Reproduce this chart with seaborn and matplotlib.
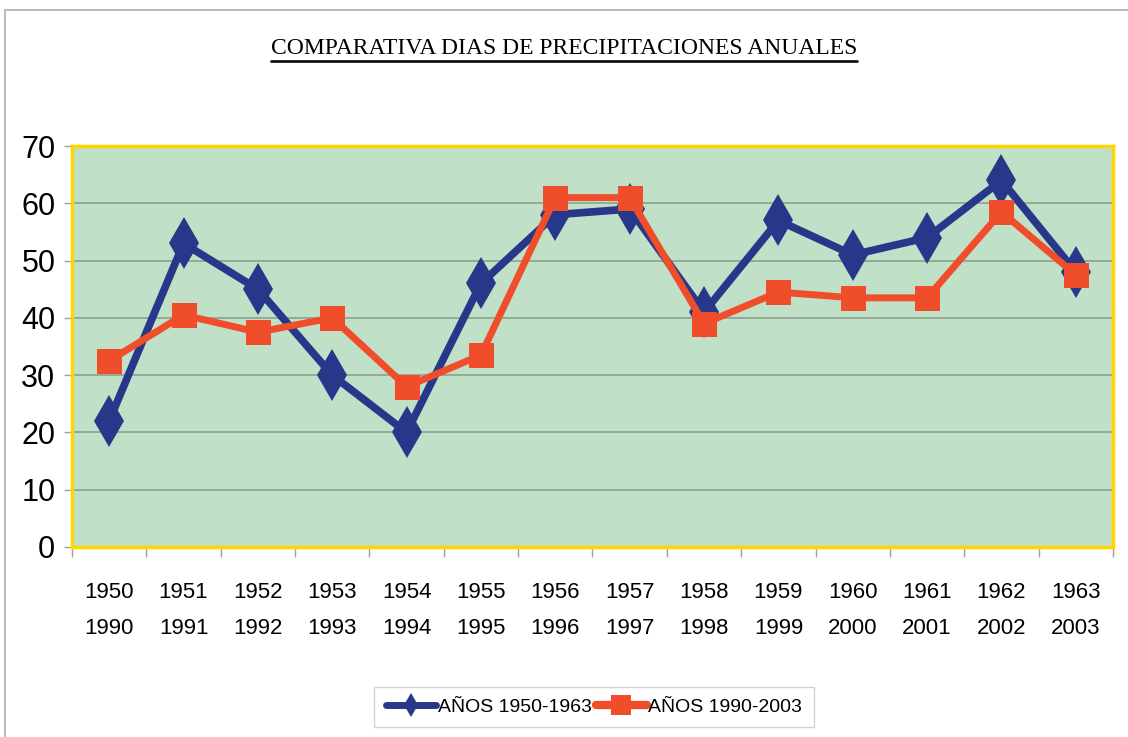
import matplotlib
matplotlib.use("Agg")
import matplotlib.pyplot as plt
import seaborn as sns
import pandas as pd
from matplotlib.patches import Rectangle
from matplotlib.lines import Line2D

# ---- data ----
years_a = ["1950", "1951", "1952", "1953", "1954", "1955", "1956",
           "1957", "1958", "1959", "1960", "1961", "1962", "1963"]
years_b = ["1990", "1991", "1992", "1993", "1994", "1995", "1996",
           "1997", "1998", "1999", "2000", "2001", "2002", "2003"]
dias_1950_1963 = [22, 53, 45, 30, 20, 46, 58, 59, 41, 57, 51, 54, 64, 48]
dias_1990_2003 = [32.5, 40.5, 37.5, 40, 28, 33.5, 61, 61, 39, 44.5, 43.5, 43.5, 58.5, 47.5]
serie_a = "AÑOS 1950-1963"
serie_b = "AÑOS 1990-2003"
y_ticks = [0, 10, 20, 30, 40, 50, 60, 70]
title = "COMPARATIVA DIAS DE PRECIPITACIONES ANUALES"

labels = [f"{a}\n{b}" for a, b in zip(years_a, years_b)]
pos = list(range(len(labels)))
df = pd.DataFrame({"pos": pos + pos,
                   "dias": dias_1950_1963 + dias_1990_2003,
                   "serie": [serie_a] * len(pos) + [serie_b] * len(pos)})

sns.set_style("white")
SANS = ["Liberation Sans Narrow", "Liberation Sans", "DejaVu Sans"]
plt.rcParams["font.family"] = SANS
plt.rcParams["text.color"] = "black"

BLUE = "#27388A"
RED = "#F04E2A"
BG = "#C0E1C7"
GRID = "#8FA08F"
GOLD = "#FFD700"

fig = plt.figure(figsize=(11.28, 7.37), dpi=100)
fig.patch.set_facecolor("white")
ax = fig.add_axes([72 / 1128, 1 - 547 / 737, (1113 - 72) / 1128, (547 - 146) / 737])
ax.set_facecolor(BG)

sns.lineplot(data=df[df.serie == serie_a], x="pos", y="dias", ax=ax,
             color=BLUE, lw=5.5, marker="d", markersize=26, markeredgewidth=0,
             label=serie_a, zorder=3)
sns.lineplot(data=df[df.serie == serie_b], x="pos", y="dias", ax=ax,
             color=RED, lw=5, marker="s", markersize=18, markeredgewidth=0,
             label=serie_b, zorder=4)

ax.set_xlim(-0.5, len(pos) - 0.5)
ax.set_ylim(0, 70)
ax.set_yticks(y_ticks)
ax.set_yticklabels([str(v) for v in y_ticks], fontsize=22, family=SANS, color="black")
ax.set_xticks(pos)
ax.set_xticklabels(labels, fontsize=16, family=SANS, linespacing=1.95, color="black")
ax.set_xticks([p - 0.5 for p in pos] + [len(pos) - 0.5], minor=True)
ax.tick_params(axis="x", which="major", length=0, pad=25)
ax.tick_params(axis="x", which="minor", length=7, color="#A0A0A0", width=1,
               direction="out", bottom=True)
ax.tick_params(axis="y", length=6, color="#A0A0A0", width=1, pad=6, left=True)
ax.set_xlabel("")
ax.set_ylabel("")
for v in y_ticks[1:-1]:
    ax.axhline(v, color=GRID, lw=1.2, zorder=1)
for s in ax.spines.values():
    s.set_color(GOLD)
    s.set_linewidth(2.5)
ax.get_legend().remove()

# title with underline
t = fig.text(564 / 1128, 1 - 49 / 737, title, ha="center", va="center",
             fontsize=17, family="Liberation Serif", color="black")
fig.canvas.draw()
bb = t.get_window_extent()
yline = 737 - 61
fig.add_artist(Line2D([bb.x0 / 1128, bb.x1 / 1128], [yline / 737, yline / 737],
                      transform=fig.transFigure, color="#111111", lw=2))

# chart border
fig.add_artist(Rectangle((5 / 1128, -0.1), 1.2, (737 - 10) / 737 + 0.1,
                         transform=fig.transFigure, fill=False,
                         edgecolor="#BBBBBB", lw=1.5))

handles, lbls = ax.get_legend_handles_labels()
leg = fig.legend(handles, lbls, loc="center", bbox_to_anchor=(594 / 1128, 1 - 707 / 737),
                 ncol=2, frameon=True, fancybox=False, edgecolor="#C8C8C8",
                 handlelength=2.6, handletextpad=0.1, columnspacing=0.2,
                 borderpad=0.6, prop={"family": SANS, "size": 14})
lh = leg.legend_handles
lh[0].set_markersize(12)
lh[0].set_linewidth(5)
lh[1].set_markersize(15)
lh[1].set_linewidth(6)

fig.savefig("out.png", dpi=100)
